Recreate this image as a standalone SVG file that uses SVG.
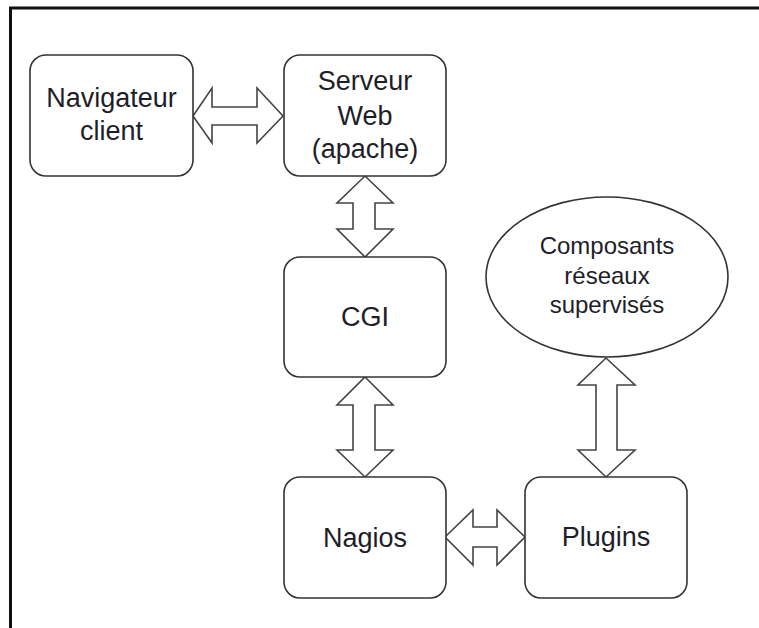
<svg xmlns="http://www.w3.org/2000/svg" width="759" height="628" viewBox="0 0 759 628">
<style>
.box{fill:#fff;stroke:#333;stroke-width:1.6}
.arr{fill:#fff;stroke:#444;stroke-width:1.6;stroke-linejoin:miter}
.t{font-family:"Liberation Sans",Arial,sans-serif;font-size:27px;fill:#1e1e28;text-anchor:middle}
.s{font-family:"Liberation Sans",Arial,sans-serif;font-size:24px;fill:#1e1e28;text-anchor:middle}
</style>
<rect width="759" height="628" fill="#fff"/>
<path d="M10.5 628 V8 H759" fill="none" stroke="#111" stroke-width="3"/>
<g id="connectors">
<polygon class="arr" points="193,116 212,88 212,107 257,107 257,88 283,116 257,143 257,125 212,125 212,143"/>
<polygon class="arr" points="365,176 393,203 375,203 375,229 393,229 365,257 337,229 353,229 353,203 337,203"/>
<polygon class="arr" points="365,377 393,405 375,405 375,450 393,450 365,477 337,450 353,450 353,405 337,405"/>
<polygon class="arr" points="445,537 473,510 473,527 497,527 497,510 525,537 497,565 497,547 473,547 473,565"/>
<polygon class="arr" points="606,358 635,385 617,385 617,450 635,450 606,477 578,450 596,450 596,385 578,385"/>
</g>
<g id="navigateur">
<rect class="box" x="30" y="55" width="163" height="121" rx="16"/>
<text class="t" x="111.5" y="107">Navigateur</text>
<text class="t" x="111.5" y="140">client</text>
</g>
<g id="serveur">
<rect class="box" x="284" y="55" width="162" height="121" rx="16"/>
<text class="t" x="365" y="90">Serveur</text>
<text class="t" x="365" y="125">Web</text>
<text class="t" x="365" y="158">(apache)</text>
</g>
<g id="cgi">
<rect class="box" x="284" y="257" width="162" height="120" rx="16"/>
<text class="t" x="365" y="326">CGI</text>
</g>
<g id="nagios">
<rect class="box" x="284" y="477" width="162" height="121" rx="16"/>
<text class="t" x="365" y="547">Nagios</text>
</g>
<g id="plugins">
<rect class="box" x="525" y="477" width="162" height="121" rx="16"/>
<text class="t" x="606" y="546">Plugins</text>
</g>
<g id="composants">
<ellipse class="box" cx="607" cy="277" rx="121" ry="80"/>
<text class="s" x="607" y="254">Composants</text>
<text class="s" x="607" y="284">réseaux</text>
<text class="s" x="607" y="313">supervisés</text>
</g>
</svg>
